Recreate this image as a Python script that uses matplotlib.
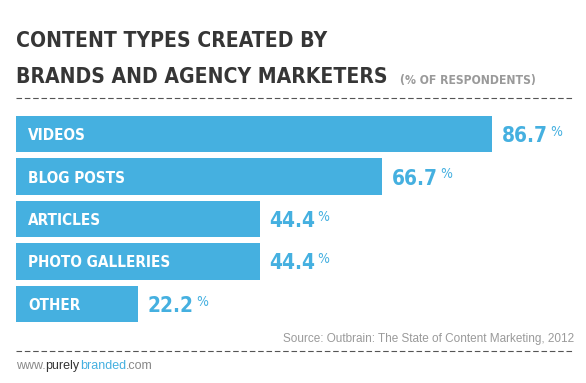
import matplotlib
matplotlib.use("Agg")
import matplotlib.pyplot as plt

categories = ["VIDEOS", "BLOG POSTS", "ARTICLES", "PHOTO GALLERIES", "OTHER"]
values = [86.7, 66.7, 44.4, 44.4, 22.2]

title_lines = ["CONTENT TYPES CREATED BY", "BRANDS AND AGENCY MARKETERS"]
subtitle = "(% OF RESPONDENTS)"
source = "Source: Outbrain: The State of Content Marketing, 2012"

BLUE = "#45B0E0"
DARK = "#363636"
GREY = "#9a9a9a"
cond = dict(family="DejaVu Sans", fontstretch="condensed", fontweight="bold")
W, H = 586, 383


def fx(px):
    return px / W


def fy(py):
    return 1 - py / H


fig = plt.figure(figsize=(W / 100, H / 100), dpi=100)
fig.patch.set_facecolor("white")
renderer = fig.canvas.get_renderer()


def fit(t, width_px, max_fs):
    # shrink a text until it is about as wide as in the reference
    w = t.get_window_extent(renderer).width
    fs = t.get_fontsize() * width_px / w
    t.set_fontsize(min(fs, max_fs))
    return t


# bars area: x from 16px (0%) to 565px (100%), y from 116px to 322px
ax = fig.add_axes([fx(16), fy(322), fx(565) - fx(16), fy(116) - fy(322)])
ax.barh(range(len(values)), values, height=0.85, color=BLUE, edgecolor="none")
ax.set_xlim(0, 100)
ax.set_ylim(len(values) - 0.575, -0.425)
ax.axis("off")

lab = ax.text(2.2, 0, categories[0], color="white", fontsize=13, **cond)
lab_fs = fit(lab, 58, 15).get_fontsize()
lab.remove()
num = ax.text(0, 0, "66.7", fontsize=18, **cond)
num_fs = fit(num, 46, 22).get_fontsize()
num.remove()

for i, (cat, v) in enumerate(zip(categories, values)):
    ax.text(2.2, i, cat, color="white", fontsize=lab_fs, va="center_baseline",
            ha="left", **cond)
    t = ax.text(v + 1.8, i, f"{v:.1f}", color=BLUE, fontsize=num_fs,
                va="center_baseline", ha="left", **cond)
    ax.annotate("%", xy=(1, 1), xycoords=t, xytext=(1.5, 1),
                textcoords="offset points", color=BLUE, fontsize=10,
                family="DejaVu Sans", fontstretch="condensed",
                va="top", ha="left")

# title
t2 = fig.text(fx(16), fy(83), title_lines[1], color=DARK, fontsize=24,
              va="baseline", ha="left", **cond)
fit(t2, 372, 26)
t1 = fig.text(fx(16), fy(47), title_lines[0], color=DARK,
              fontsize=t2.get_fontsize(), va="baseline", ha="left", **cond)
sub = plt.annotate(subtitle, xy=(1, 0), xycoords=t2, xytext=(9, 0),
                   textcoords="offset points", color=GREY, fontsize=11,
                   va="bottom", ha="left", annotation_clip=False, **cond)
fit(sub, 136, 12)

# dashed separators
for y in (98, 351):
    fig.add_artist(plt.Line2D([fx(16), fx(574)], [fy(y), fy(y)], color="#555555",
                              lw=0.8, dashes=(5, 2.5)))

fig.text(fx(574), fy(339), source, color=GREY, fontsize=8.5,
         family="Liberation Sans", va="center", ha="right")

# footer url in pieces
pieces = [("www.", "#888888"), ("purely", "#333333"), ("branded", BLUE), (".com", "#888888")]
prev = fig.text(fx(16), fy(366), pieces[0][0], color=pieces[0][1], fontsize=9,
                family="Liberation Sans", va="center", ha="left")
for txt, col in pieces[1:]:
    prev = plt.annotate(txt, xy=(1, 0), xycoords=prev, xytext=(0, 0),
                        textcoords="offset points", color=col, fontsize=9,
                        family="Liberation Sans", va="bottom", ha="left",
                        annotation_clip=False)

fig.savefig("out.png", dpi=100)
